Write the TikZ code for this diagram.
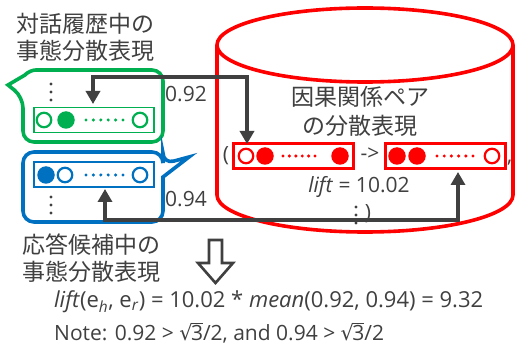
\documentclass[tikz,border=0pt]{standalone}
\usepackage{fontspec}
\setmainfont{Open Sans}
\newfontfamily\jp{Noto Sans CJK JP}
\newfontfamily\djv{DejaVu Sans}
\usetikzlibrary{arrows.meta}
\definecolor{tg}{HTML}{404040}
\definecolor{gg}{HTML}{00B050}
\definecolor{bb}{HTML}{0070C0}
\definecolor{rr}{HTML}{FF0000}
\newcommand\rowdots[4]{\foreach \i in {0,...,5} \fill[#4] ({#1+#3*\i},#2) circle (1.7pt);}
\newcommand\sqthree{{\djv √}\kern-0.08em$\overline{\mbox{3}}$}
\begin{document}
\begin{tikzpicture}[x=1pt,y=-1pt,
  jptext/.style={font=\jp\fontsize{23}{28}\selectfont, text=tg, inner sep=0pt},
  lbl/.style={font=\fontsize{21}{24}\selectfont, text=tg, inner sep=0pt},
  ocirc/.style={circle, draw=#1, line width=2.2pt, fill=white, minimum size=14.5pt, inner sep=0pt},
  fcirc/.style={circle, fill=#1, minimum size=17.5pt, inner sep=0pt},
  vecbox/.style={draw=#1, minimum width=120pt, minimum height=25pt, inner sep=0pt},
  conn/.style={draw=tg, line width=4pt, -{Triangle[width=14pt,length=13pt]}}]
\useasboundingbox (0,0) rectangle (515,350);
\fill[white] (0,0) rectangle (515,350);

% titles
\node[jptext, anchor=west] (t1) at (16,24) {対話履歴中の};
\node[jptext, anchor=west] (t2) at (16,51) {事態分散表現};
\node[jptext, anchor=west] (t3) at (22,245) {応答候補中の};
\node[jptext, anchor=west] (t4) at (22,272) {事態分散表現};

% cylinder
\draw[rr, line width=3.6pt] (365,45) ellipse [x radius=148pt, y radius=37pt];
\draw[rr, line width=3.6pt] (217,45) -- (217,195) arc[start angle=180, end angle=360, x radius=148pt, y radius=37pt] -- (513,45);
\node[jptext] (c1) at (360,97) {因果関係ペア};
\node[jptext] (c2) at (360,126) {の分散表現};

% green bubble
\draw[gg, line width=3.6pt] (93,70) [rounded corners=11pt] -- (163,70) -- (163,142) -- (23,142) -- (23,97) [sharp corners] -- (8,85) -- (25,75) [rounded corners=6pt] -- (30,70) -- (93,70);
\node[vecbox=gg, line width=1.6pt] (gin) at (94,120) {};
\node[ocirc=gg] (g1) at (44,120) {};
\node[fcirc=gg] (g2) at (66,120) {};
\rowdots{86}{120}{7.4}{gg}
\node[ocirc=gg] (g3) at (140,120) {};
\foreach \y in {84,92,100} \fill[tg] (51,\y) circle (1.6pt);

% blue bubble
\draw[bb, line width=3.6pt] (93,152) [rounded corners=11pt] -- (163,152) -- (163,164) [sharp corners] -- (189,157) -- (163,177) [rounded corners=11pt] -- (163,222) -- (23,222) -- (23,152) -- (93,152);
\node[vecbox=bb, line width=2pt] (bin) at (94,175) {};
\node[fcirc=bb] (b1) at (46,175) {};
\node[ocirc=bb] (b2) at (65,175) {};
\rowdots{86}{175}{7.4}{bb}
\node[ocirc=bb] (b3) at (140,175) {};
\foreach \y in {197,205,213} \fill[tg] (51,\y) circle (1.6pt);

% red rows
\node[lbl] (lp) at (226,156) {(};
\node[vecbox=rr, line width=3pt] (rl) at (293,156) {};
\node[ocirc=rr] (r1) at (246,156) {};
\node[fcirc=rr] (r2) at (265,156) {};
\rowdots{283}{156}{6.4}{rr}
\node[fcirc=rr] (r3) at (340,156) {};
\node[lbl] (ar) at (370,154) {->};
\node[vecbox=rr, line width=3pt] (rr2) at (445,156) {};
\node[fcirc=rr] (s1) at (397,156) {};
\node[fcirc=rr] (s2) at (417,156) {};
\rowdots{437}{156}{7.2}{rr}
\node[ocirc=rr] (s3) at (492,156) {};
\node[lbl, anchor=west] (cm) at (507,163) {,};
\node[lbl] (lift) at (359,187) {\textit{lift} = 10.02};
\foreach \y in {207,215,223} \fill[tg] (356,\y) circle (1.6pt);
\node[lbl] (rp) at (368,214) {)};

% labels
\node[lbl, anchor=west] (l1) at (165,94) {0.92};
\node[lbl, anchor=west] (l2) at (165,199) {0.94};

% connectors
\coordinate (ga) at (93,104);
\coordinate (ra) at (247,144);
\coordinate (ba) at (105,189);
\coordinate (rb) at (458,172);
\draw[conn, {Triangle[width=14pt,length=13pt]}-{Triangle[width=14pt,length=13pt]}] (ga) -- (93,77) -- (247,77) -- (ra);
\draw[conn, {Triangle[width=14pt,length=13pt]}-{Triangle[width=14pt,length=13pt]}] (ba) -- (105,220) -- (458,220) -- (rb);

% hollow arrow
\draw[tg, line width=2.6pt, line join=miter] (209,240) -- (222,240) -- (222,263) -- (233,263) -- (215.5,283) -- (198,263) -- (209,263) -- cycle;

% formula
\node[lbl, font=\fontsize{22}{26}\selectfont, anchor=west] (f1) at (54,302) {\textit{lift}(e\textsubscript{\textit{h}}, e\textsubscript{\textit{r}}) = 10.02 * \textit{mean}(0.92, 0.94) = 9.32};
\node[lbl, font=\fontsize{21}{26}\selectfont, anchor=west] (f2) at (54,333) {Note: 0.92 > \sqthree/2, and 0.94 > \sqthree/2};
\end{tikzpicture}
\end{document}
